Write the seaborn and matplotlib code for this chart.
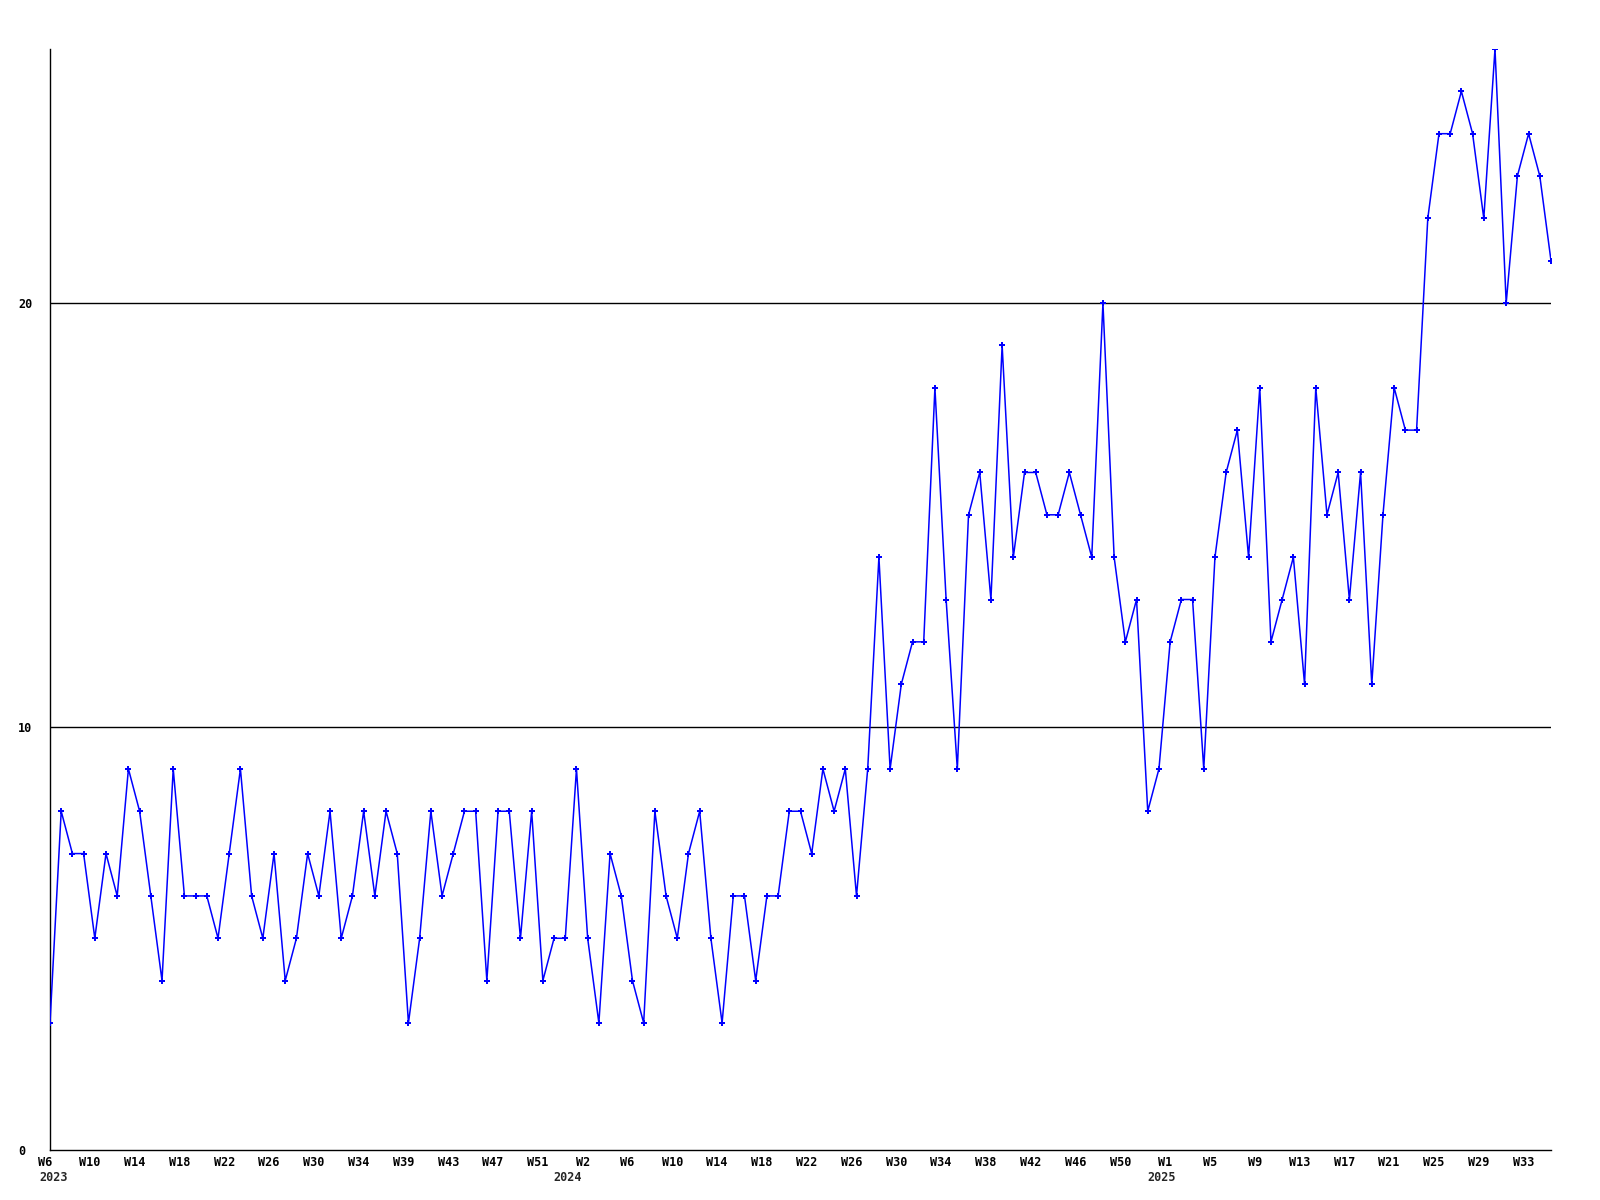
import pandas as pd
import matplotlib
matplotlib.use("Agg")
import matplotlib.pyplot as plt
import matplotlib.transforms as mtransforms
import seaborn as sns

sns.set_theme(style="white")
plt.rcParams['font.family'] = ['DejaVu Sans Mono', 'DejaVu Sans']

# weekly counts, 2023 W6 .. 2025 W35
counts = [3, 8, 7, 7, 5, 7, 6, 9, 8, 6, 4, 9, 6, 6, 6, 5, 7, 9, 6, 5,
          7, 4, 5, 7, 6, 8, 5, 6, 8, 6, 8, 7, 3, 5, 8, 6, 7, 8, 8, 4,
          8, 8, 5, 8, 4, 5, 5, 9, 5, 3, 7, 6, 4, 3, 8, 6, 5, 7, 8, 5,
          3, 6, 6, 4, 6, 6, 8, 8, 7, 9, 8, 9, 6, 9, 14, 9, 11, 12, 12, 18,
          13, 9, 15, 16, 13, 19, 14, 16, 16, 15, 15, 16, 15, 14, 20, 14, 12, 13, 8, 9,
          12, 13, 13, 9, 14, 16, 17, 14, 18, 12, 13, 14, 11, 18, 15, 16, 13, 16, 11, 15,
          18, 17, 17, 22, 24, 24, 25, 24, 22, 26, 20, 23, 24, 23, 21]

# labels shown every 4th week
week_labels = ["W6", "W10", "W14", "W18", "W22", "W26", "W30", "W34", "W39", "W43", "W47", "W51",
               "W2", "W6", "W10", "W14", "W18", "W22", "W26", "W30", "W34", "W38", "W42", "W46", "W50",
               "W1", "W5", "W9", "W13", "W17", "W21", "W25", "W29", "W33"]
years = ["2023", "2024", "2025"]
year_x = [0.3, 46.2, 99.2]  # where the year captions sit (week index)

df = pd.DataFrame({"week": range(len(counts)), "count": counts})

fig = plt.figure(figsize=(16, 12), dpi=100)
ax = fig.add_axes([50 / 1600, 1 - 1150 / 1200, 1501 / 1600, 1101 / 1200])

# horizontal reference lines
for yv in [10, 20]:
    ax.axhline(yv, color="black", linewidth=1, zorder=1)

sns.lineplot(data=df, x="week", y="count", ax=ax, color="#0000ff", linewidth=1.1,
             marker="P", markersize=4.5, markeredgewidth=0, zorder=3)

ax.set_xlim(0, len(counts) - 1)
ax.set_ylim(0, 26)
ax.set_xticks(list(range(0, len(counts), 4)))
ax.set_xticklabels(week_labels, fontsize=8.5, fontweight="bold")
ax.set_yticks([0, 10, 20])
ax.set_yticklabels(["0", "10", "20"], fontsize=8.5, fontweight="bold")
ax.tick_params(axis="x", length=0, pad=4.5, colors="black")
ax.tick_params(axis="y", length=0, pad=23, colors="black")

shift = mtransforms.ScaledTranslation(-0.05, 0, fig.dpi_scale_trans)
for lab in ax.get_xticklabels():
    lab.set_transform(lab.get_transform() + shift)
for lab in ax.get_yticklabels():
    lab.set_horizontalalignment("left")

# year captions under the week labels
for yr, xv in zip(years, year_x):
    ax.annotate(yr, xy=(xv, 0), xycoords=("data", "axes fraction"),
                xytext=(0, -20), textcoords="offset points",
                ha="center", va="center", fontsize=8.5, fontweight="bold",
                annotation_clip=False)

ax.set_xlabel("")
ax.set_ylabel("")
ax.grid(False)
sns.despine(ax=ax)
ax.spines["left"].set_color("black")
ax.spines["bottom"].set_color("black")
ax.spines["left"].set_linewidth(1)
ax.spines["bottom"].set_linewidth(1)

fig.savefig("out.png", dpi=100, facecolor="white")
